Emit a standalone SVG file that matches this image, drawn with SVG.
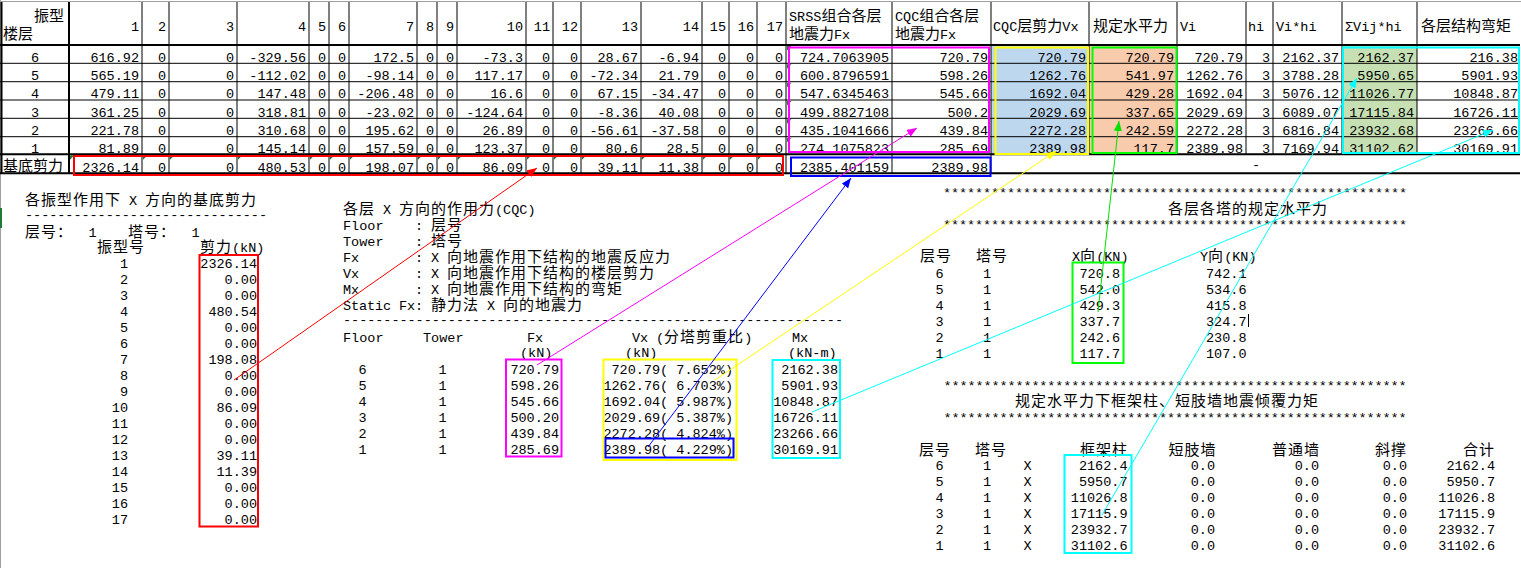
<svg xmlns="http://www.w3.org/2000/svg" width="1521" height="568" viewBox="0 0 1521 568">
<style>
.n{font-family:"Liberation Mono","DejaVu Sans Mono",monospace;font-size:13.5px;fill:#000}
.c{font-family:"Noto Sans CJK SC","Noto Sans CJK JP",sans-serif;font-size:15px;fill:#000}
.l{letter-spacing:1px}
.e{text-anchor:end}
.m{text-anchor:middle}
.g{stroke:#000;stroke-width:1;fill:none}
.gt{stroke:#000;stroke-width:2;fill:none}
.box{fill:none;stroke-width:2}
.cn{fill:none;stroke-width:1}
</style>
<defs>
<path id="tri" d="M0,0h4.5L0,4.5z" fill="#1F7A35"/>
<marker id="aR" viewBox="0 0 10 8" refX="10" refY="4" markerWidth="10" markerHeight="8" markerUnits="userSpaceOnUse" orient="auto"><path d="M0,0L10,4L0,8z" fill="#FF0000"/></marker>
<marker id="aM" viewBox="0 0 10 8" refX="10" refY="4" markerWidth="10" markerHeight="8" markerUnits="userSpaceOnUse" orient="auto"><path d="M0,0L10,4L0,8z" fill="#FF00FF"/></marker>
<marker id="aB" viewBox="0 0 10 8" refX="10" refY="4" markerWidth="10" markerHeight="8" markerUnits="userSpaceOnUse" orient="auto"><path d="M0,0L10,4L0,8z" fill="#0000FF"/></marker>
<marker id="aY" viewBox="0 0 10 8" refX="10" refY="4" markerWidth="10" markerHeight="8" markerUnits="userSpaceOnUse" orient="auto"><path d="M0,0L10,4L0,8z" fill="#FFFF00"/></marker>
<marker id="aG" viewBox="0 0 10 8" refX="10" refY="4" markerWidth="10" markerHeight="8" markerUnits="userSpaceOnUse" orient="auto"><path d="M0,0L10,4L0,8z" fill="#00E000"/></marker>
<marker id="aC" viewBox="0 0 10 8" refX="10" refY="4" markerWidth="10" markerHeight="8" markerUnits="userSpaceOnUse" orient="auto"><path d="M0,0L10,4L0,8z" fill="#00FFFF"/></marker>
</defs>
<rect width="1521" height="568" fill="#fff"/>
<line x1="0.5" y1="0" x2="0.5" y2="568" stroke="#A0A0A0"/>
<rect x="0" y="208" width="2" height="20" fill="#1F7A35"/>

<g id="table">
<rect x="991" y="45" width="98" height="109.3" fill="#BDD7EE"/>
<rect x="1089" y="45" width="88" height="109.3" fill="#F8CBAD"/>
<rect x="1342" y="45" width="75" height="109.3" fill="#C6E0B4"/>
<line x1="0" y1="1.5" x2="1521" y2="1.5" stroke="#A0A0A0"/>
<g class="g">
<path d="M0,63.3H1520M0,81.7H1520M0,100H1520M0,118.3H1520M0,136.7H1520"/>
<path d="M142,2V173.3M169,2V173.3M237,2V173.3M309,2V173.3M329,2V173.3M349,2V173.3M417,2V173.3M437,2V173.3M457,2V173.3M526,2V173.3M553,2V173.3M581,2V173.3M641,2V173.3M702,2V173.3M729,2V173.3M757,2V173.3M786,2V173.3M892,2V173.3M991,2V173.3"/>
<path d="M1089,2V154.3M1177,2V154.3M1246,2V154.3M1273,2V154.3M1342,2V154.3M1417,2V154.3"/>
</g>
<path class="gt" d="M0,45H1520M0,154.3H1520M0,173.3H1520M69,2V173.3M1.5,2V173.3"/>
<text class="c" x="34" y="20.5">振型</text>
<text class="c" x="3" y="38.5">楼层</text>
<text class="n e" y="31"><tspan x="139">1</tspan><tspan x="166">2</tspan><tspan x="234">3</tspan><tspan x="306">4</tspan><tspan x="326">5</tspan><tspan x="346">6</tspan><tspan x="414">7</tspan><tspan x="434">8</tspan><tspan x="454">9</tspan><tspan x="523">10</tspan><tspan x="550">11</tspan><tspan x="578">12</tspan><tspan x="638">13</tspan><tspan x="699">14</tspan><tspan x="726">15</tspan><tspan x="754">16</tspan><tspan x="783">17</tspan></text>
<text x="789" y="20.5"><tspan class="n">SRSS</tspan><tspan class="c">组合各层</tspan></text>
<text x="789" y="38.5"><tspan class="c">地震力</tspan><tspan class="n">Fx</tspan></text>
<text x="895" y="20.5"><tspan class="n">CQC</tspan><tspan class="c">组合各层</tspan></text>
<text x="895" y="38.5"><tspan class="c">地震力</tspan><tspan class="n">Fx</tspan></text>
<text x="993" y="30.5"><tspan class="n">CQC</tspan><tspan class="c">层剪力</tspan><tspan class="n">Vx</tspan></text>
<text class="c" x="1093" y="30.5">规定水平力</text>
<text class="n" x="1180" y="30.5">Vi</text>
<text class="n" x="1248" y="30.5">hi</text>
<text class="n" x="1276" y="30.5">Vi*hi</text>
<text class="n" x="1345" y="30.5">ΣVij*hi</text>
<text class="c" x="1421" y="30.5">各层结构弯矩</text>
<text class="n m" x="35"><tspan x="35" y="61.5">6</tspan><tspan x="35" y="80">5</tspan><tspan x="35" y="98.3">4</tspan><tspan x="35" y="116.6">3</tspan><tspan x="35" y="135">2</tspan><tspan x="35" y="152.8">1</tspan></text>
<text class="c" x="3" y="170.5">基底剪力</text>
<text class="n e" y="61.5"><tspan x="139">616.92</tspan><tspan x="166">0</tspan><tspan x="234">0</tspan><tspan x="306">-329.56</tspan><tspan x="326">0</tspan><tspan x="346">0</tspan><tspan x="414">172.5</tspan><tspan x="434">0</tspan><tspan x="454">0</tspan><tspan x="523">-73.3</tspan><tspan x="550">0</tspan><tspan x="578">0</tspan><tspan x="638">28.67</tspan><tspan x="699">-6.94</tspan><tspan x="726">0</tspan><tspan x="754">0</tspan><tspan x="783">0</tspan><tspan x="889">724.7063905</tspan><tspan x="988">720.79</tspan><tspan x="1086">720.79</tspan><tspan x="1174">720.79</tspan><tspan x="1243">720.79</tspan><tspan x="1270">3</tspan><tspan x="1339">2162.37</tspan><tspan x="1414">2162.37</tspan><tspan x="1518">216.38</tspan></text>
<text class="n e" y="80"><tspan x="139">565.19</tspan><tspan x="166">0</tspan><tspan x="234">0</tspan><tspan x="306">-112.02</tspan><tspan x="326">0</tspan><tspan x="346">0</tspan><tspan x="414">-98.14</tspan><tspan x="434">0</tspan><tspan x="454">0</tspan><tspan x="523">117.17</tspan><tspan x="550">0</tspan><tspan x="578">0</tspan><tspan x="638">-72.34</tspan><tspan x="699">21.79</tspan><tspan x="726">0</tspan><tspan x="754">0</tspan><tspan x="783">0</tspan><tspan x="889">600.8796591</tspan><tspan x="988">598.26</tspan><tspan x="1086">1262.76</tspan><tspan x="1174">541.97</tspan><tspan x="1243">1262.76</tspan><tspan x="1270">3</tspan><tspan x="1339">3788.28</tspan><tspan x="1414">5950.65</tspan><tspan x="1518">5901.93</tspan></text>
<text class="n e" y="98.3"><tspan x="139">479.11</tspan><tspan x="166">0</tspan><tspan x="234">0</tspan><tspan x="306">147.48</tspan><tspan x="326">0</tspan><tspan x="346">0</tspan><tspan x="414">-206.48</tspan><tspan x="434">0</tspan><tspan x="454">0</tspan><tspan x="523">16.6</tspan><tspan x="550">0</tspan><tspan x="578">0</tspan><tspan x="638">67.15</tspan><tspan x="699">-34.47</tspan><tspan x="726">0</tspan><tspan x="754">0</tspan><tspan x="783">0</tspan><tspan x="889">547.6345463</tspan><tspan x="988">545.66</tspan><tspan x="1086">1692.04</tspan><tspan x="1174">429.28</tspan><tspan x="1243">1692.04</tspan><tspan x="1270">3</tspan><tspan x="1339">5076.12</tspan><tspan x="1414">11026.77</tspan><tspan x="1518">10848.87</tspan></text>
<text class="n e" y="116.6"><tspan x="139">361.25</tspan><tspan x="166">0</tspan><tspan x="234">0</tspan><tspan x="306">318.81</tspan><tspan x="326">0</tspan><tspan x="346">0</tspan><tspan x="414">-23.02</tspan><tspan x="434">0</tspan><tspan x="454">0</tspan><tspan x="523">-124.64</tspan><tspan x="550">0</tspan><tspan x="578">0</tspan><tspan x="638">-8.36</tspan><tspan x="699">40.08</tspan><tspan x="726">0</tspan><tspan x="754">0</tspan><tspan x="783">0</tspan><tspan x="889">499.8827108</tspan><tspan x="988">500.2</tspan><tspan x="1086">2029.69</tspan><tspan x="1174">337.65</tspan><tspan x="1243">2029.69</tspan><tspan x="1270">3</tspan><tspan x="1339">6089.07</tspan><tspan x="1414">17115.84</tspan><tspan x="1518">16726.11</tspan></text>
<text class="n e" y="135"><tspan x="139">221.78</tspan><tspan x="166">0</tspan><tspan x="234">0</tspan><tspan x="306">310.68</tspan><tspan x="326">0</tspan><tspan x="346">0</tspan><tspan x="414">195.62</tspan><tspan x="434">0</tspan><tspan x="454">0</tspan><tspan x="523">26.89</tspan><tspan x="550">0</tspan><tspan x="578">0</tspan><tspan x="638">-56.61</tspan><tspan x="699">-37.58</tspan><tspan x="726">0</tspan><tspan x="754">0</tspan><tspan x="783">0</tspan><tspan x="889">435.1041666</tspan><tspan x="988">439.84</tspan><tspan x="1086">2272.28</tspan><tspan x="1174">242.59</tspan><tspan x="1243">2272.28</tspan><tspan x="1270">3</tspan><tspan x="1339">6816.84</tspan><tspan x="1414">23932.68</tspan><tspan x="1518">23266.66</tspan></text>
<text class="n e" y="152.8"><tspan x="139">81.89</tspan><tspan x="166">0</tspan><tspan x="234">0</tspan><tspan x="306">145.14</tspan><tspan x="326">0</tspan><tspan x="346">0</tspan><tspan x="414">157.59</tspan><tspan x="434">0</tspan><tspan x="454">0</tspan><tspan x="523">123.37</tspan><tspan x="550">0</tspan><tspan x="578">0</tspan><tspan x="638">80.6</tspan><tspan x="699">28.5</tspan><tspan x="726">0</tspan><tspan x="754">0</tspan><tspan x="783">0</tspan><tspan x="889">274.1075823</tspan><tspan x="988">285.69</tspan><tspan x="1086">2389.98</tspan><tspan x="1174">117.7</tspan><tspan x="1243">2389.98</tspan><tspan x="1270">3</tspan><tspan x="1339">7169.94</tspan><tspan x="1414">31102.62</tspan><tspan x="1518">30169.91</tspan></text>
<text class="n e" y="171.5"><tspan x="139">2326.14</tspan><tspan x="166">0</tspan><tspan x="234">0</tspan><tspan x="306">480.53</tspan><tspan x="326">0</tspan><tspan x="346">0</tspan><tspan x="414">198.07</tspan><tspan x="434">0</tspan><tspan x="454">0</tspan><tspan x="523">86.09</tspan><tspan x="550">0</tspan><tspan x="578">0</tspan><tspan x="638">39.11</tspan><tspan x="699">11.38</tspan><tspan x="726">0</tspan><tspan x="754">0</tspan><tspan x="783">0</tspan><tspan x="889">2385.401159</tspan><tspan x="988">2389.98</tspan></text>
<text class="n m" x="1256" y="169">-</text>
<g>
<use href="#tri" x="70" y="155.3"/><use href="#tri" x="143" y="155.3"/><use href="#tri" x="170" y="155.3"/><use href="#tri" x="238" y="155.3"/><use href="#tri" x="310" y="155.3"/><use href="#tri" x="330" y="155.3"/><use href="#tri" x="350" y="155.3"/><use href="#tri" x="418" y="155.3"/><use href="#tri" x="438" y="155.3"/><use href="#tri" x="458" y="155.3"/><use href="#tri" x="527" y="155.3"/><use href="#tri" x="554" y="155.3"/><use href="#tri" x="582" y="155.3"/><use href="#tri" x="642" y="155.3"/><use href="#tri" x="703" y="155.3"/><use href="#tri" x="730" y="155.3"/><use href="#tri" x="758" y="155.3"/>
<use href="#tri" x="787" y="46"/><use href="#tri" x="787" y="64.3"/><use href="#tri" x="787" y="82.7"/><use href="#tri" x="787" y="101"/><use href="#tri" x="787" y="119.3"/><use href="#tri" x="787" y="137.7"/>
</g>
</g>

<g id="base-shear-list">
<text class="c l" x="25" y="204.5">各振型作用下</text>
<text class="n" x="129" y="204.5">X</text>
<text class="c l" x="145" y="204.5">方向的基底剪力</text>
<text class="n" x="25" y="219" textLength="242" lengthAdjust="spacing">------------------------------</text>
<text class="c l" x="25" y="237">层号：</text>
<text class="n m" x="92.5" y="237">1</text>
<text class="c l" x="128" y="237">塔号：</text>
<text class="n m" x="195.5" y="237">1</text>
<text class="c l" x="97" y="252">振型号</text>
<text x="200" y="252"><tspan class="c l">剪力</tspan><tspan class="n">(kN)</tspan></text>
<text class="n e"><tspan x="128" y="267.7">1</tspan><tspan x="128" y="283.7">2</tspan><tspan x="128" y="299.7">3</tspan><tspan x="128" y="315.7">4</tspan><tspan x="128" y="331.7">5</tspan><tspan x="128" y="347.7">6</tspan><tspan x="128" y="363.7">7</tspan><tspan x="128" y="379.7">8</tspan><tspan x="128" y="395.7">9</tspan><tspan x="128" y="411.7">10</tspan><tspan x="128" y="427.7">11</tspan><tspan x="128" y="443.7">12</tspan><tspan x="128" y="459.7">13</tspan><tspan x="128" y="475.7">14</tspan><tspan x="128" y="491.7">15</tspan><tspan x="128" y="507.7">16</tspan><tspan x="128" y="523.7">17</tspan></text>
<text class="n e"><tspan x="257" y="267.7">2326.14</tspan><tspan x="257" y="283.7">0.00</tspan><tspan x="257" y="299.7">0.00</tspan><tspan x="257" y="315.7">480.54</tspan><tspan x="257" y="331.7">0.00</tspan><tspan x="257" y="347.7">0.00</tspan><tspan x="257" y="363.7">198.08</tspan><tspan x="257" y="379.7">0.00</tspan><tspan x="257" y="395.7">0.00</tspan><tspan x="257" y="411.7">86.09</tspan><tspan x="257" y="427.7">0.00</tspan><tspan x="257" y="443.7">0.00</tspan><tspan x="257" y="459.7">39.11</tspan><tspan x="257" y="475.7">11.39</tspan><tspan x="257" y="491.7">0.00</tspan><tspan x="257" y="507.7">0.00</tspan><tspan x="257" y="523.7">0.00</tspan></text>
</g>

<g id="cqc-forces">
<text class="c l" x="343" y="213.5">各层</text>
<text class="n" x="383" y="213.5">X</text>
<text class="c l" x="399" y="213.5">方向的作用力</text>
<text class="n" x="495" y="213.5">(CQC)</text>
<text class="n" x="343" y="229.5">Floor</text><text class="n" x="415" y="229.5">:</text><text class="c l" x="431" y="229.5">层号</text>
<text class="n" x="343" y="245.5">Tower</text><text class="n" x="415" y="245.5">:</text><text class="c l" x="431" y="245.5">塔号</text>
<text class="n" x="343" y="261.5">Fx</text><text class="n" x="415" y="261.5">:</text><text class="n" x="431" y="261.5">X</text><text class="c l" x="447" y="261.5">向地震作用下结构的地震反应力</text>
<text class="n" x="343" y="277.5">Vx</text><text class="n" x="415" y="277.5">:</text><text class="n" x="431" y="277.5">X</text><text class="c l" x="447" y="277.5">向地震作用下结构的楼层剪力</text>
<text class="n" x="343" y="293.5">Mx</text><text class="n" x="415" y="293.5">:</text><text class="n" x="431" y="293.5">X</text><text class="c l" x="447" y="293.5">向地震作用下结构的弯矩</text>
<text class="n" x="343" y="309.5" textLength="80" lengthAdjust="spacing">Static Fx:</text><text class="c l" x="431" y="309.5">静力法</text><text class="n" x="487" y="309.5">X</text><text class="c l" x="503" y="309.5">向的地震力</text>
<text class="n" x="343" y="324" textLength="500" lengthAdjust="spacing">--------------------------------------------------------------</text>
<text class="n" x="343" y="341.7">Floor</text>
<text class="n" x="423" y="341.7">Tower</text>
<text class="n" x="527" y="341.7">Fx</text>
<text class="n" x="632" y="341.7">Vx</text>
<text x="656" y="341.7"><tspan class="n">(</tspan><tspan class="c l">分塔剪重比</tspan><tspan class="n">)</tspan></text>
<text class="n" x="792" y="341.7">Mx</text>
<text class="n" x="520" y="356.5">(kN)</text>
<text class="n" x="625" y="356.5">(kN)</text>
<text class="n" x="788" y="356.5">(kN-m)</text>
<text class="n m"><tspan x="362.5" y="373.5">6</tspan><tspan x="362.5" y="389.5">5</tspan><tspan x="362.5" y="405.5">4</tspan><tspan x="362.5" y="421.5">3</tspan><tspan x="362.5" y="437.5">2</tspan><tspan x="362.5" y="453.5">1</tspan></text>
<text class="n m"><tspan x="442.5" y="373.5">1</tspan><tspan x="442.5" y="389.5">1</tspan><tspan x="442.5" y="405.5">1</tspan><tspan x="442.5" y="421.5">1</tspan><tspan x="442.5" y="437.5">1</tspan><tspan x="442.5" y="453.5">1</tspan></text>
<text class="n e"><tspan x="559" y="373.5">720.79</tspan><tspan x="559" y="389.5">598.26</tspan><tspan x="559" y="405.5">545.66</tspan><tspan x="559" y="421.5">500.20</tspan><tspan x="559" y="437.5">439.84</tspan><tspan x="559" y="453.5">285.69</tspan></text>
<text class="n e"><tspan x="733" y="373.5">720.79( 7.652%)</tspan><tspan x="733" y="389.5">1262.76( 6.703%)</tspan><tspan x="733" y="405.5">1692.04( 5.987%)</tspan><tspan x="733" y="421.5">2029.69( 5.387%)</tspan><tspan x="733" y="437.5">2272.28( 4.824%)</tspan><tspan x="733" y="453.5">2389.98( 4.229%)</tspan></text>
<text class="n e"><tspan x="838" y="373.5">2162.38</tspan><tspan x="838" y="389.5">5901.93</tspan><tspan x="838" y="405.5">10848.87</tspan><tspan x="838" y="421.5">16726.11</tspan><tspan x="838" y="437.5">23266.66</tspan><tspan x="838" y="453.5">30169.91</tspan></text>
</g>

<g id="specified-horizontal-force">
<text class="n" x="943" y="197" textLength="464" lengthAdjust="spacing">**********************************************************</text>
<text class="c l" x="1168" y="214">各层各塔的规定水平力</text>
<text class="n" x="943" y="229" textLength="464" lengthAdjust="spacing">**********************************************************</text>
<text class="c l" x="920" y="260.5">层号</text>
<text class="c l" x="976" y="260.5">塔号</text>
<text x="1072" y="260.5"><tspan class="n">X</tspan><tspan class="c l">向</tspan><tspan class="n">(KN)</tspan></text>
<text x="1200" y="260.5"><tspan class="n">Y</tspan><tspan class="c l">向</tspan><tspan class="n">(KN)</tspan></text>
<text class="n m"><tspan x="939.5" y="277.7">6</tspan><tspan x="939.5" y="293.7">5</tspan><tspan x="939.5" y="309.7">4</tspan><tspan x="939.5" y="325.7">3</tspan><tspan x="939.5" y="341.7">2</tspan><tspan x="939.5" y="357.7">1</tspan></text>
<text class="n m"><tspan x="987" y="277.7">1</tspan><tspan x="987" y="293.7">1</tspan><tspan x="987" y="309.7">1</tspan><tspan x="987" y="325.7">1</tspan><tspan x="987" y="341.7">1</tspan><tspan x="987" y="357.7">1</tspan></text>
<text class="n e"><tspan x="1120" y="277.7">720.8</tspan><tspan x="1120" y="293.7">542.0</tspan><tspan x="1120" y="309.7">429.3</tspan><tspan x="1120" y="325.7">337.7</tspan><tspan x="1120" y="341.7">242.6</tspan><tspan x="1120" y="357.7">117.7</tspan></text>
<text class="n e"><tspan x="1246.5" y="277.7">742.1</tspan><tspan x="1246.5" y="293.7">534.6</tspan><tspan x="1246.5" y="309.7">415.8</tspan><tspan x="1246.5" y="325.7">324.7</tspan><tspan x="1246.5" y="341.7">230.8</tspan><tspan x="1246.5" y="357.7">107.0</tspan></text>
<line x1="1248.5" y1="314" x2="1248.5" y2="327" stroke="#000" stroke-width="1"/>
</g>

<g id="overturning-moment">
<text class="n" x="943.6" y="389.5" textLength="463" lengthAdjust="spacing">**********************************************************</text>
<text class="c l" x="1015" y="406">规定水平力下框架柱、短肢墙地震倾覆力矩</text>
<text class="n" x="943.6" y="421.5" textLength="463" lengthAdjust="spacing">**********************************************************</text>
<text class="c l" x="919" y="455">层号</text>
<text class="c l" x="975" y="455">塔号</text>
<text class="c l" x="1080" y="455">框架柱</text>
<text class="c l" x="1168.5" y="455">短肢墙</text>
<text class="c l" x="1272" y="455">普通墙</text>
<text class="c l" x="1375" y="455">斜撑</text>
<text class="c l" x="1463" y="455">合计</text>
<text class="n m"><tspan x="939.5" y="470">6</tspan><tspan x="939.5" y="486">5</tspan><tspan x="939.5" y="502">4</tspan><tspan x="939.5" y="518">3</tspan><tspan x="939.5" y="534">2</tspan><tspan x="939.5" y="550">1</tspan></text>
<text class="n m"><tspan x="987" y="470">1</tspan><tspan x="987" y="486">1</tspan><tspan x="987" y="502">1</tspan><tspan x="987" y="518">1</tspan><tspan x="987" y="534">1</tspan><tspan x="987" y="550">1</tspan></text>
<text class="n m"><tspan x="1027.5" y="470">X</tspan><tspan x="1027.5" y="486">X</tspan><tspan x="1027.5" y="502">X</tspan><tspan x="1027.5" y="518">X</tspan><tspan x="1027.5" y="534">X</tspan><tspan x="1027.5" y="550">X</tspan></text>
<text class="n e"><tspan x="1127.5" y="470">2162.4</tspan><tspan x="1127.5" y="486">5950.7</tspan><tspan x="1127.5" y="502">11026.8</tspan><tspan x="1127.5" y="518">17115.9</tspan><tspan x="1127.5" y="534">23932.7</tspan><tspan x="1127.5" y="550">31102.6</tspan></text>
<text class="n e"><tspan x="1215" y="470">0.0</tspan><tspan x="1215" y="486">0.0</tspan><tspan x="1215" y="502">0.0</tspan><tspan x="1215" y="518">0.0</tspan><tspan x="1215" y="534">0.0</tspan><tspan x="1215" y="550">0.0</tspan></text>
<text class="n e"><tspan x="1319" y="470">0.0</tspan><tspan x="1319" y="486">0.0</tspan><tspan x="1319" y="502">0.0</tspan><tspan x="1319" y="518">0.0</tspan><tspan x="1319" y="534">0.0</tspan><tspan x="1319" y="550">0.0</tspan></text>
<text class="n e"><tspan x="1407" y="470">0.0</tspan><tspan x="1407" y="486">0.0</tspan><tspan x="1407" y="502">0.0</tspan><tspan x="1407" y="518">0.0</tspan><tspan x="1407" y="534">0.0</tspan><tspan x="1407" y="550">0.0</tspan></text>
<text class="n e"><tspan x="1495" y="470">2162.4</tspan><tspan x="1495" y="486">5950.7</tspan><tspan x="1495" y="502">11026.8</tspan><tspan x="1495" y="518">17115.9</tspan><tspan x="1495" y="534">23932.7</tspan><tspan x="1495" y="550">31102.6</tspan></text>
</g>

<g id="highlight-boxes">
<rect class="box" stroke="#FF0000" x="74" y="156" width="709" height="19"/>
<rect class="box" stroke="#FF00FF" x="789" y="47.5" width="200" height="104.5"/>
<rect class="box" stroke="#0000FF" x="791" y="157.5" width="199.5" height="18.5"/>
<rect class="box" stroke="#FFFF00" x="995.5" y="47.5" width="92.5" height="106.5"/>
<rect class="box" stroke="#00FF00" x="1092.5" y="47.5" width="84" height="105.5"/>
<rect class="box" stroke="#00FFFF" x="1343" y="47.5" width="176" height="105.5"/>
<rect class="box" stroke="#FF0000" x="199.5" y="255" width="58.5" height="271.5"/>
<rect class="box" stroke="#FF00FF" x="506" y="359.5" width="55.5" height="97"/>
<rect class="box" stroke="#FFFF00" x="603.5" y="359.5" width="133" height="100.5"/>
<rect class="box" stroke="#0000FF" x="605.5" y="438.5" width="128" height="19"/>
<rect class="box" stroke="#00FFFF" x="772.5" y="360" width="67.5" height="98"/>
<rect class="box" stroke="#00FF00" x="1072.5" y="262.5" width="51" height="100.5"/>
<rect class="box" stroke="#00FFFF" x="1064.5" y="455" width="67" height="98"/>
</g>

<g id="connectors">
<line class="cn" stroke="#FF0000" x1="234" y1="380" x2="537" y2="168" marker-end="url(#aR)"/>
<line class="cn" stroke="#FF00FF" x1="537" y1="365" x2="917" y2="128" marker-end="url(#aM)"/>
<line class="cn" stroke="#0000FF" x1="648" y1="447" x2="851" y2="178" marker-end="url(#aB)"/>
<line class="cn" stroke="#FFFF00" x1="715" y1="380" x2="1056" y2="151" marker-end="url(#aY)"/>
<line class="cn" stroke="#00E000" x1="1098" y1="312" x2="1119" y2="121" marker-end="url(#aG)"/>
<line class="cn" stroke="#00FFFF" x1="812" y1="412" x2="1493" y2="130" marker-end="url(#aC)"/>
<line class="cn" stroke="#00FFFF" x1="1102" y1="515" x2="1357" y2="78" marker-end="url(#aC)"/>
</g>
</svg>
